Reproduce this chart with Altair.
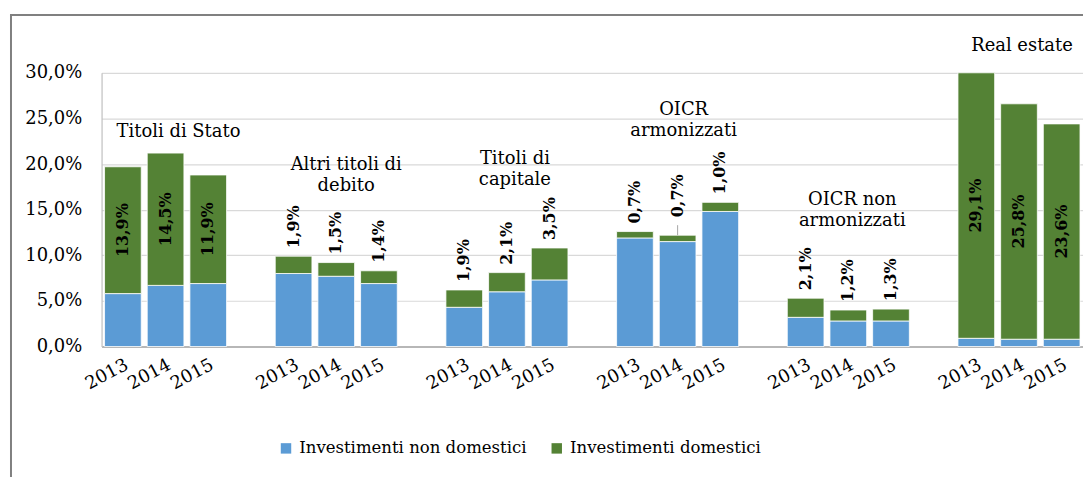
import altair as alt
import pandas as pd

# ---------------- data ----------------
groups = ["Titoli di Stato", "Altri titoli di debito", "Titoli di capitale",
          "OICR armonizzati", "OICR non armonizzati", "Real estate"]
years = ["2013", "2014", "2015"]
series = ["Investimenti non domestici", "Investimenti domestici"]

non_domestici = [5.8, 6.7, 6.9,
                 8.0, 7.7, 6.9,
                 4.3, 6.0, 7.3,
                 11.9, 11.5, 14.8,
                 3.2, 2.8, 2.8,
                 0.9, 0.8, 0.8]
domestici = [13.9, 14.5, 11.9,
             1.9, 1.5, 1.4,
             1.9, 2.1, 3.5,
             0.7, 0.7, 1.0,
             2.1, 1.2, 1.3,
             29.1, 25.8, 23.6]

title_lines = [["Titoli di Stato"], ["Altri titoli di", "debito"], ["Titoli di", "capitale"],
               ["OICR", "armonizzati"], ["OICR non", "armonizzati"], ["Real estate"]]
# annotation placement (data units for the top of each title, pixel shift)
title_top = [24.5, 20.9, 21.5, 26.9, 17.0, 33.9]
title_dx = [13, 10, 8, 6, 4, 3]
label_inside = [True, False, False, False, False, True]
label_lift = [0, 0, 0, 0, 0, 0, 0, 0, 0, 0, 1.1, 0, 0, 0, 0, 0, 0, 0]

BLUE = "#5B9BD5"
GREEN = "#548235"
FONT = "DejaVu Serif"

# ---------------- tables ----------------
domain = []
for gi, g in enumerate(groups):
    for y in years:
        domain.append(f"{g}|{y}")
    if gi < len(groups) - 1:
        domain.append(f"gap{gi}")

bar_rows, lab_rows, lead_rows = [], [], []
i = 0
for gi, g in enumerate(groups):
    for y in years:
        key = f"{g}|{y}"
        nd, d = non_domestici[i], domestici[i]
        bar_rows.append({"key": key, "serie": series[0], "y0": 0, "y1": nd})
        bar_rows.append({"key": key, "serie": series[1], "y0": nd, "y1": nd + d})
        txt = f"{d:.1f}".replace(".", ",") + "%"
        if label_inside[gi]:
            lab_rows.append({"key": key, "ly": nd + d / 2, "txt": txt, "inside": 1})
        else:
            lab_rows.append({"key": key, "ly": nd + d + label_lift[i], "txt": txt, "inside": 0})
            if label_lift[i] > 0:
                lead_rows.append({"key": key, "a": nd + d, "b": nd + d + label_lift[i]})
        i += 1

bars_df = pd.DataFrame(bar_rows)
labs_df = pd.DataFrame(lab_rows)
lead_df = pd.DataFrame(lead_rows)
titles_df = pd.DataFrame({"key": [f"{g}|2014" for g in groups],
                          "ty": title_top, "lines": title_lines})

# ---------------- encodings ----------------
xscale = alt.Scale(domain=domain, paddingInner=0.14, paddingOuter=0.07)
xaxis = alt.Axis(title=None, ticks=False, grid=False, domainColor="#A6A6A6", domainWidth=1.5,
                 labelAngle=-28, labelAlign="right", labelBaseline="top", labelPadding=9,
                 labelFont=FONT, labelFontSize=18, labelColor="black",
                 labelExpr="indexof(datum.value, '|') >= 0 ? split(datum.value, '|')[1] : ''")
yscale = alt.Scale(domain=[0, 30], nice=False)
yaxis = alt.Axis(title=None, ticks=False, values=[0, 5, 10, 15, 20, 25, 30],
                 gridColor="#D9D9D9", gridWidth=1.2, domainColor="#BFBFBF", domainWidth=1.2,
                 labelFont=FONT, labelFontSize=18, labelColor="black", labelPadding=20,
                 labelExpr="replace(format(datum.value, '.1f'), '.', ',') + '%'")


def X():
    return alt.X("key:N", scale=xscale, axis=xaxis, title=None)


def Y(field):
    return alt.Y(f"{field}:Q", scale=yscale, axis=yaxis, title=None)


bars = alt.Chart(bars_df).mark_bar(stroke="white", strokeWidth=0.8).encode(
    x=X(),
    y=Y("y0"),
    y2="y1:Q",
    color=alt.Color("serie:N", scale=alt.Scale(domain=series, range=[BLUE, GREEN]),
                    legend=alt.Legend(title=None, orient="none", direction="horizontal",
                                      legendX=177, legendY=369, symbolType="square",
                                      symbolSize=110, symbolStrokeWidth=0,
                                      labelFont=FONT, labelFontSize=16.6, labelColor="black",
                                      labelLimit=0, labelOffset=5, columnPadding=22)),
    order=alt.Order("y0:Q"),
)

inside_labels = alt.Chart(labs_df).transform_filter("datum.inside == 1").mark_text(
    angle=270, align="center", baseline="middle", font=FONT, fontSize=16,
    fontWeight="bold", color="black"
).encode(x=X(), y=Y("ly"), text="txt:N")

above_labels = alt.Chart(labs_df).transform_filter("datum.inside == 0").mark_text(
    angle=270, align="left", baseline="middle", dx=8, font=FONT, fontSize=16,
    fontWeight="bold", color="black"
).encode(x=X(), y=Y("ly"), text="txt:N")

leaders = alt.Chart(lead_df).mark_rule(color="#A6A6A6", strokeWidth=1).encode(
    x=X(), y=Y("a"), y2="b:Q"
)

title_layers = []
for gi in range(len(groups)):
    title_layers.append(
        alt.Chart(titles_df.iloc[[gi]]).mark_text(
            align="center", baseline="top", font=FONT, fontSize=18, lineHeight=21,
            color="black", dx=title_dx[gi]
        ).encode(x=X(), y=Y("ty"), text="lines")
    )

frame_df = pd.DataFrame({"k": [0]})
frame_left = alt.Chart(frame_df).mark_rule(color="#808080", strokeWidth=2).encode(
    x=alt.value(-91), y=alt.value(-58), y2=alt.value(420)
)
frame_top = alt.Chart(frame_df).mark_rule(color="#808080", strokeWidth=2).encode(
    x=alt.value(-92), x2=alt.value(1000), y=alt.value(-58)
)

chart = alt.layer(bars, inside_labels, above_labels, leaders, *title_layers,
                  frame_left, frame_top).properties(
    width=986, height=275,
    autosize=alt.AutoSizeParams(type="none"),
    padding={"left": 94, "top": 64, "right": 0, "bottom": 130},
).configure_view(strokeWidth=0)

chart.save("out.html", embed_options={"renderer": "svg", "actions": False})
